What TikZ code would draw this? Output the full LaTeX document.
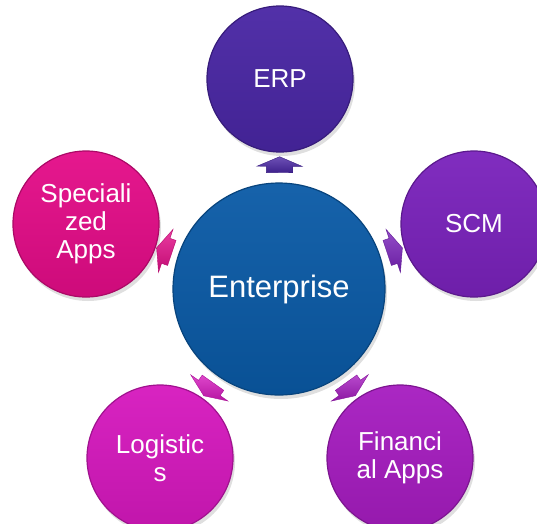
\documentclass[tikz,border=0pt]{standalone}
\usepackage{fontspec}
\setmainfont{Liberation Sans}
\usepackage{xcolor}
\usepackage{tikz}
\usetikzlibrary{shapes,arrows,positioning,calc,shadows,arrows.meta}

\definecolor{entblue}{HTML}{0A5AA6}
\definecolor{erpviolet}{HTML}{4926A4}
\definecolor{scmpurple}{HTML}{7A22BC}
\definecolor{finpurple}{HTML}{A61CC0}
\definecolor{logmagenta}{HTML}{D618BE}
\definecolor{specpink}{HTML}{E40C88}

\tikzset{
    bubble/.style={circle, inner sep=0pt, minimum size=146pt, text=white,
        align=center, font=\fontsize{26}{28}\selectfont,
        top color=#1!95!white, bottom color=#1!90!black, draw=#1!75!black, line width=1.2pt,
        drop shadow={opacity=0.25, shadow xshift=2pt, shadow yshift=-4pt}},
    hub/.style={bubble=#1, minimum size=212pt, font=\fontsize{31}{34}\selectfont},
    blockarrow/.style={single arrow, sloped, allow upside down, inner sep=0pt,
        text height=13pt, text depth=13pt, text width=0pt,
        minimum height=16pt, single arrow head extend=9.5pt,
        single arrow tip angle=134,
        top color=#1!80!white, bottom color=#1!85!black, draw=#1!80!black, line width=0.4pt}
}

\begin{document}
\begin{tikzpicture}[x=1pt, y=-1pt]
    \useasboundingbox (0,0) rectangle (537,523);
    \clip (0,0) rectangle (537,523);

    \node[hub=entblue] (ent) at (279,289) {Enterprise};

    \node[bubble=erpviolet] (erp) at (280,79) {ERP};
    \node[bubble=scmpurple] (scm) at (474,224) {SCM};
    \node[bubble=specpink] (spec) at (86,224) {Speciali\\zed\\Apps};
    \node[bubble=logmagenta] (logi) at (160,458) {Logistic\\s};
    \node[bubble=finpurple] (fin) at (400,458) {Financi\\al Apps};

    % arrows out of the hub
    \path (ent) -- node[blockarrow=erpviolet] {} (erp);
    \path (ent) -- node[blockarrow=scmpurple] {} (scm);
    \path (ent) -- node[blockarrow=specpink] {} (spec);
    \path (ent) -- node[blockarrow=logmagenta] {} (logi);
    \path (ent) -- node[blockarrow=finpurple] {} (fin);
\end{tikzpicture}
\end{document}
